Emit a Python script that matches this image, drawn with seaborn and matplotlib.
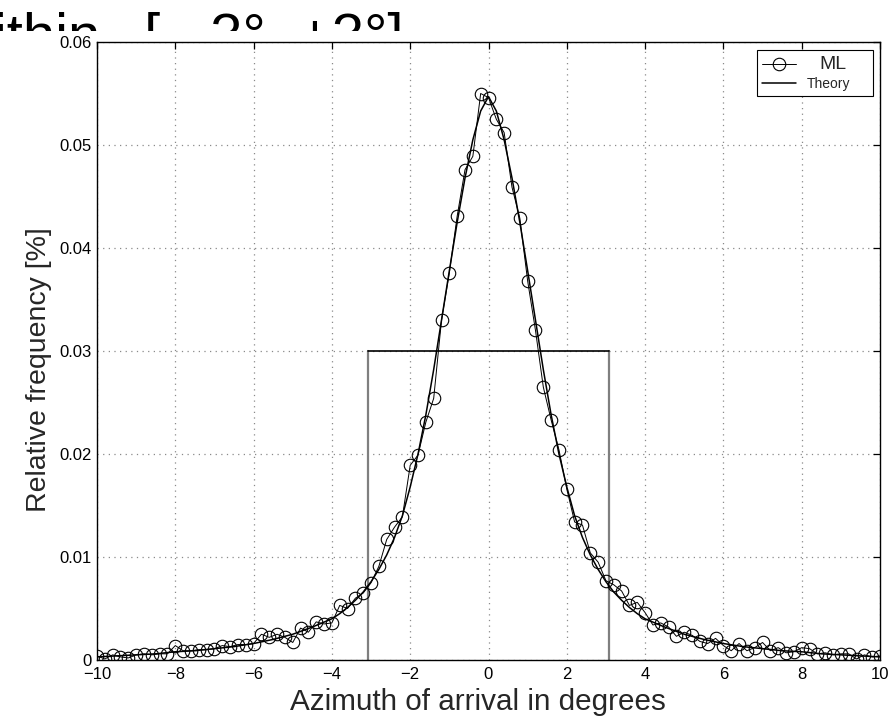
import numpy as np
import pandas as pd
import matplotlib
matplotlib.use("Agg")
import matplotlib.pyplot as plt
import seaborn as sns

# ---------------- data ----------------
ml_x = [-10.0, -9.8, -9.6, -9.4, -9.2, -9.0, -8.8, -8.6, -8.4, -8.2,
        -8.0, -7.8, -7.6, -7.4, -7.2, -7.0, -6.8, -6.6, -6.4, -6.2,
        -6.0, -5.8, -5.6, -5.4, -5.2, -5.0, -4.8, -4.6, -4.4, -4.2,
        -4.0, -3.8, -3.6, -3.4, -3.2, -3.0, -2.8, -2.6, -2.4, -2.2,
        -2.0, -1.8, -1.6, -1.4, -1.2, -1.0, -0.8, -0.6, -0.4, -0.2,
        0.0, 0.2, 0.4, 0.6, 0.8, 1.0, 1.2, 1.4, 1.6, 1.8,
        2.0, 2.2, 2.4, 2.6, 2.8, 3.0, 3.2, 3.4, 3.6, 3.8,
        4.0, 4.2, 4.4, 4.6, 4.8, 5.0, 5.2, 5.4, 5.6, 5.8,
        6.0, 6.2, 6.4, 6.6, 6.8, 7.0, 7.2, 7.4, 7.6, 7.8,
        8.0, 8.2, 8.4, 8.6, 8.8, 9.0, 9.2, 9.4, 9.6, 9.8, 10.0]
ml_y = [0.0004, 0.0001, 0.0005, 0.0003, 0.0002, 0.0005, 0.0006, 0.0005, 0.0006, 0.0006,
        0.0014, 0.0009, 0.0009, 0.0010, 0.0010, 0.0011, 0.0014, 0.0013, 0.0015, 0.0015,
        0.0016, 0.0025, 0.0022, 0.0025, 0.0022, 0.0017, 0.0031, 0.0027, 0.0037, 0.0035,
        0.0036, 0.0053, 0.0050, 0.0060, 0.0065, 0.0075, 0.0091, 0.0117, 0.0129, 0.0139,
        0.0189, 0.0199, 0.0231, 0.0254, 0.0330, 0.0376, 0.0431, 0.0476, 0.0489, 0.0550,
        0.0546, 0.0525, 0.0512, 0.0459, 0.0429, 0.0368, 0.0320, 0.0265, 0.0233, 0.0204,
        0.0166, 0.0134, 0.0131, 0.0104, 0.0095, 0.0077, 0.0073, 0.0067, 0.0053, 0.0056,
        0.0046, 0.0034, 0.0036, 0.0032, 0.0023, 0.0027, 0.0024, 0.0018, 0.0016, 0.0021,
        0.0014, 0.0009, 0.0016, 0.0009, 0.0012, 0.0017, 0.0009, 0.0012, 0.0007, 0.0008,
        0.0012, 0.0011, 0.0006, 0.0007, 0.0005, 0.0006, 0.0006, 0.0001, 0.0005, 0.0003, 0.0004]

theory_x = [-10.0, -9.5, -9.0, -8.5, -8.0, -7.5, -7.0, -6.5, -6.0, -5.5, -5.0, -4.5,
            -4.0, -3.8, -3.6, -3.4, -3.2, -3.0, -2.8, -2.6, -2.4, -2.2, -2.0, -1.8,
            -1.6, -1.4, -1.2, -1.0, -0.8, -0.6, -0.4, -0.2, 0.0, 0.2, 0.4, 0.6, 0.8,
            1.0, 1.2, 1.4, 1.6, 1.8, 2.0, 2.2, 2.4, 2.6, 2.8, 3.0, 3.2, 3.4, 3.6, 3.8,
            4.0, 4.5, 5.0, 5.5, 6.0, 6.5, 7.0, 7.5, 8.0, 8.5, 9.0, 9.5, 10.0]
theory_y = [0.0003, 0.0004, 0.0005, 0.0006, 0.0008, 0.0009, 0.0011, 0.0013, 0.0016, 0.0020, 0.0025, 0.0032,
            0.0040, 0.0045, 0.0051, 0.0058, 0.0066, 0.0076, 0.0088, 0.0102, 0.0119, 0.0140, 0.0168, 0.0200,
            0.0238, 0.0282, 0.0330, 0.0378, 0.0425, 0.0468, 0.0505, 0.0533, 0.0547, 0.0533, 0.0505, 0.0468, 0.0425,
            0.0378, 0.0330, 0.0282, 0.0238, 0.0200, 0.0168, 0.0140, 0.0119, 0.0102, 0.0088, 0.0076, 0.0066, 0.0058, 0.0051, 0.0045,
            0.0040, 0.0032, 0.0025, 0.0020, 0.0016, 0.0013, 0.0011, 0.0009, 0.0008, 0.0006, 0.0005, 0.0004, 0.0003]

window_x = [-3.08, -3.08, 3.08, 3.08]
window_y = [0.0, 0.03, 0.03, 0.0]

x_ticks = [-10, -8, -6, -4, -2, 0, 2, 4, 6, 8, 10]
x_tick_labels = ["\u221210", "\u22128", "\u22126", "\u22124", "\u22122", "0", "2", "4", "6", "8", "10"]
y_ticks = [0, 0.01, 0.02, 0.03, 0.04, 0.05, 0.06]
y_tick_labels = ["0", "0.01", "0.02", "0.03", "0.04", "0.05", "0.06"]

title_text = "within  \u2009[ \u22123\u00b0, +3\u00b0]"
x_label = "Azimuth of arrival in degrees"
y_label = "Relative frequency [%]"

# ---------------- style ----------------
sns.set_style("white")
plt.rcParams["font.family"] = ["Liberation Sans", "DejaVu Sans"]
plt.rcParams["axes.unicode_minus"] = True

W, H = 890, 721
fig = plt.figure(figsize=(W / 100, H / 100), dpi=100)
fig.patch.set_facecolor("white")

L, R, T, B = 97, 880, 42, 660
ax = fig.add_axes([L / W, 1 - B / H, (R - L) / W, (B - T) / H])
ax.set_facecolor("white")

# clipped title strip at the very top (only the upper part of the glyphs shows)
STRIP = 31
tax = fig.add_axes([0, 1 - STRIP / H, 1, STRIP / H])
tax.set_axis_off()
tax.set_xlim(0, W)
tax.set_ylim(STRIP, 0)
tax.text(-48, 53.5, title_text, fontsize=41.8, color="black",
         ha="left", va="baseline", clip_on=True)

# window rectangle
ax.plot(window_x[0:2], window_y[0:2], color="#7f7f7f", lw=1.6, zorder=2)
ax.plot(window_x[2:4], window_y[2:4], color="#7f7f7f", lw=1.6, zorder=2)
ax.plot(window_x[1:3], window_y[1:3], color="black", lw=1.2, zorder=2)

ml_df = pd.DataFrame({"x": ml_x, "y": ml_y})
th_df = pd.DataFrame({"x": theory_x, "y": theory_y})

sns.lineplot(data=ml_df, x="x", y="y", ax=ax, color="black", lw=0.7,
             marker="o", markersize=9, markerfacecolor="none",
             markeredgecolor="black", markeredgewidth=0.8, label="ML",
             zorder=3, sort=False)
sns.lineplot(data=th_df, x="x", y="y", ax=ax, color="black", lw=1.1,
             label="Theory", zorder=4, sort=False)

ax.set_xlim(-10, 10)
ax.set_ylim(0, 0.06)
ax.set_xticks(x_ticks)
ax.set_xticklabels(x_tick_labels)
ax.set_yticks(y_ticks)
ax.set_yticklabels(y_tick_labels)

ax.grid(True, color="#8a8a8a", linestyle=(0, (1, 3.5)), lw=0.9)
ax.set_axisbelow(True)

ax.tick_params(axis="both", which="major", direction="in", length=5, width=0.9,
               labelsize=12, colors="black", top=True, right=True)
ax.tick_params(axis="x", pad=5)
ax.tick_params(axis="y", pad=4)
for s in ax.spines.values():
    s.set_visible(True)
    s.set_color("black")
    s.set_linewidth(1.0)

ax.set_xlabel(x_label, fontsize=21.3)
ax.set_ylabel(y_label, fontsize=20.5)
ax.xaxis.set_label_coords((478 - L) / (R - L), -(688 - B) / (B - T))
ax.yaxis.set_label_coords(-(97 - 52) / (R - L), (B - 370) / (B - T))

leg = ax.legend(loc="upper right", bbox_to_anchor=(1 - 7 / (R - L), 1 - 8 / (B - T)),
                borderaxespad=0, frameon=True, fancybox=False, framealpha=1,
                edgecolor="black", handlelength=2.45, handletextpad=2.0,
                borderpad=0.4, labelspacing=0.3, fontsize=10)
leg.get_frame().set_linewidth(0.8)
texts = leg.get_texts()
texts[0].set_fontsize(14)
texts[1].set_fontsize(10)
# MATLAB-like centring of the legend strings
texts[0].set_x(-5)
texts[1].set_x(-17)

fig.savefig("out.png", dpi=100)
